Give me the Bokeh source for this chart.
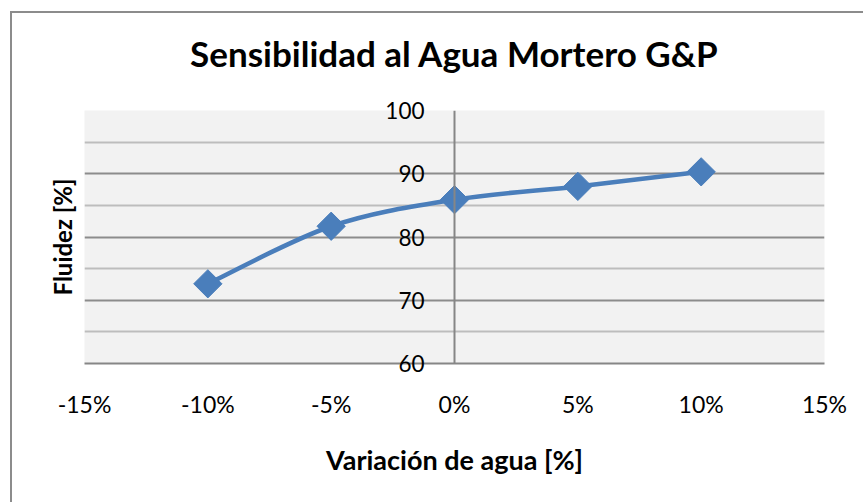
import numpy as np
from bokeh.plotting import figure
from bokeh.models import (LinearAxis, FixedTicker, NumeralTickFormatter, Range1d,
                          Grid, Span)
from bokeh.embed import file_html
from bokeh.resources import INLINE

# ---- data ----
variacion = [-0.10, -0.05, 0.00, 0.05, 0.10]
fluidez = [72.6, 81.7, 85.9, 88.0, 90.3]
x_ticks = [-0.15, -0.10, -0.05, 0.0, 0.05, 0.10, 0.15]
y_ticks = [60, 70, 80, 90, 100]
y_minor = [65, 75, 85, 95]
title_text = "Sensibilidad al Agua Mortero G&P"

FONT = "Lato"
BLUE = "#4a7ebb"
FRAME_W = 740

p = figure(width=851, height=491, output_backend="svg", toolbar_location=None,
           title=None,
           x_range=Range1d(-0.15, 0.15), y_range=Range1d(60, 100),
           x_axis_type=None, y_axis_type=None,
           min_border_left=72, min_border_right=39, min_border_top=97, min_border_bottom=141,
           frame_width=FRAME_W,
           background_fill_color="#f2f2f2", border_fill_color="white",
           outline_line_color=None)
p.styles = {"margin-left": "10px", "margin-top": "11px",
            "border-left": "2px solid #8c8c8c", "border-top": "2px solid #8c8c8c"}

# chart title (as the label of an empty axis above the plot area)
tax = LinearAxis(ticker=FixedTicker(ticks=[]), axis_label=title_text)
tax.axis_line_color = None
tax.major_tick_line_color = None
tax.minor_tick_line_color = None
tax.major_tick_out = 0
tax.major_label_text_font_size = "0px"
tax.axis_label_text_font = FONT
tax.axis_label_text_font_size = "35px"
tax.axis_label_text_font_style = "bold"
tax.axis_label_text_color = "black"
tax.axis_label_standoff = 37
p.add_layout(tax, "above")

# x axis
xax = LinearAxis(ticker=FixedTicker(ticks=x_ticks),
                 formatter=NumeralTickFormatter(format="0%"),
                 axis_label="Variación de agua [%]")
xax.axis_line_color = "#868686"
xax.axis_line_width = 2
xax.major_tick_line_color = None
xax.minor_tick_line_color = None
xax.major_label_text_font = FONT
xax.major_label_text_font_size = "23px"
xax.major_label_text_color = "black"
xax.major_label_standoff = 20
xax.axis_label_text_font = FONT
xax.axis_label_text_font_size = "27px"
xax.axis_label_text_font_style = "bold"
xax.axis_label_text_color = "black"
xax.axis_label_standoff = 22
p.add_layout(xax, "below")

# y tick labels: drawn beside the vertical axis that crosses at x = 0
yticker = FixedTicker(ticks=y_ticks, minor_ticks=y_minor)
yax = LinearAxis(ticker=yticker)
yax.axis_line_color = None
yax.major_tick_line_color = None
yax.minor_tick_line_color = None
yax.major_tick_out = 0
yax.major_tick_in = 0
yax.major_label_text_font = FONT
yax.major_label_text_font_size = "22.5px"
yax.major_label_text_color = "black"
yax.major_label_standoff = -(FRAME_W // 2) + 26
p.add_layout(yax, "left")

# y axis title
ytit = LinearAxis(ticker=FixedTicker(ticks=[]), axis_label="Fluidez [%]")
ytit.axis_line_color = None
ytit.major_tick_line_color = None
ytit.minor_tick_line_color = None
ytit.major_label_text_font_size = "0px"
ytit.axis_label_text_font = FONT
ytit.axis_label_text_font_size = "24px"
ytit.axis_label_text_font_style = "bold"
ytit.axis_label_text_color = "black"
ytit.axis_label_standoff = 8
p.add_layout(ytit, "left")

# grids
yg = Grid(dimension=1, ticker=yticker)
yg.grid_line_color = "#8c8c8c"
yg.grid_line_width = 2
yg.minor_grid_line_color = "#bdbdbd"
yg.minor_grid_line_width = 2
p.add_layout(yg)

# vertical axis line crossing at x = 0
p.add_layout(Span(location=0, dimension="height", line_color="#868686", line_width=2))

# smooth line (Catmull-Rom -> Bezier, like Excel's smoothed line)
xs = np.array(variacion)
ys = np.array(fluidez)
n = len(xs)
x0s, y0s, x1s, y1s, cx0, cy0, cx1, cy1 = [], [], [], [], [], [], [], []
for i in range(n - 1):
    pm = max(i - 1, 0)
    pp = min(i + 2, n - 1)
    x0s.append(xs[i]); y0s.append(ys[i])
    x1s.append(xs[i + 1]); y1s.append(ys[i + 1])
    cx0.append(xs[i] + (xs[i + 1] - xs[pm]) / 6)
    cy0.append(ys[i] + (ys[i + 1] - ys[pm]) / 6)
    cx1.append(xs[i + 1] - (xs[pp] - xs[i]) / 6)
    cy1.append(ys[i + 1] - (ys[pp] - ys[i]) / 6)
p.bezier(x0=x0s, y0=y0s, x1=x1s, y1=y1s, cx0=cx0, cy0=cy0, cx1=cx1, cy1=cy1,
         line_color=BLUE, line_width=4.5)

p.scatter(variacion, fluidez, marker="square", angle=np.pi / 4, size=20,
          fill_color=BLUE, line_color=BLUE)

open("out.html", "w").write(file_html(p, INLINE))
